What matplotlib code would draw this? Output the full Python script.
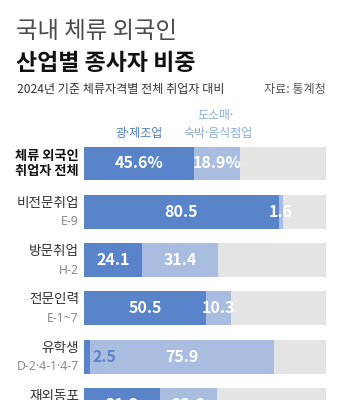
import matplotlib.pyplot as plt

plt.rcParams['font.family'] = ['Noto Sans CJK KR', 'DejaVu Sans']
MIX = ['Noto Sans', 'Noto Sans CJK KR']  # narrow middle dot, hangul fallback

# data
rows = ['체류 외국인\n취업자 전체', '비전문취업', '방문취업', '전문인력', '유학생', '재외동포']
codes = ['', 'E-9', 'H-2', 'E-1~7', 'D-2·4-1·4-7', '']
manuf = [45.6, 80.5, 24.1, 50.5, 2.5, 31.3]
retail = [18.9, 1.6, 31.4, 10.3, 75.9, 23.6]

DARK = '#5a84c9'
LIGHT = '#a9bde1'
GRAY = '#e4e4e4'

W, H = 341, 400
fig = plt.figure(figsize=(W / 100, H / 100), dpi=100)


def fx(x):
    return x / W


def fy(y):
    return 1 - y / H


# titles
fig.text(fx(16), fy(31), '국내 체류 외국인', fontsize=16.8, color='#4a4a4a',
         weight='light', va='center')
fig.text(fx(16), fy(64), '산업별 종사자 비중', fontsize=16.5, color='#111111',
         weight='bold', va='center')
fig.text(fx(17), fy(90), '2024년 기준 체류자격별 전체 취업자 대비', fontsize=8.7,
         color='#333333', va='center')
fig.text(fx(326), fy(90), '자료: 통계청', fontsize=8.7, color='#555555',
         va='center', ha='right')

# bar area
ax = fig.add_axes([fx(84), 0, fx(326) - fx(84), fy(140)])
pitch = 48.3
top = -(163.5 - 140) / pitch
bottom = (400 - 163.5) / pitch
ypos = list(range(len(rows)))

ax.barh(ypos, [100] * len(rows), height=0.70, color=GRAY, linewidth=0)
ax.barh(ypos, manuf, height=0.70, color=DARK, linewidth=0)
ax.barh(ypos, retail, left=manuf, height=0.70, color=LIGHT, linewidth=0)
ax.set_xlim(0, 100)
ax.set_ylim(bottom, top)
ax.axis('off')

for i, (m, r) in enumerate(zip(manuf, retail)):
    sfx = '%' if i == 0 else ''
    if m < 5:
        ax.text(m + 1.2, i, f'{m}{sfx}', color=DARK, fontsize=11.5, weight='bold',
                ha='left', va='center')
    else:
        ax.text(m / 2, i, f'{m}{sfx}', color='white', fontsize=11.5, weight='bold',
                ha='center', va='center')
    ax.text(m + r / 2, i, f'{r}{sfx}', color='white', fontsize=11.5, weight='bold',
            ha='center', va='center')

    # row labels
    yc = 163.5 + pitch * i
    if i == 0:
        fig.text(fx(79), fy(yc), rows[i], fontsize=9.5, weight='bold',
                 color='#111111', ha='right', va='center', linespacing=1.15)
    else:
        fig.text(fx(79), fy(yc - 9), rows[i], fontsize=9.8, color='#333333',
                 ha='right', va='center')
        if codes[i]:
            fig.text(fx(79), fy(yc + 10), codes[i], fontsize=8.8, color='#8a8a8a',
                     ha='right', va='center', family=MIX)

# legend labels
fig.text(fx(139), fy(134), '광·제조업', fontsize=8.6, color='#4d7bc4',
         ha='center', va='center', family=MIX)
fig.text(fx(216), fy(115), '도소매·', fontsize=8.6, color='#8eabd9',
         ha='center', va='center', family=MIX)
fig.text(fx(218), fy(134), '숙박·음식점업', fontsize=8.6, color='#8eabd9',
         ha='center', va='center', family=MIX)

fig.savefig('out.png', dpi=100)
